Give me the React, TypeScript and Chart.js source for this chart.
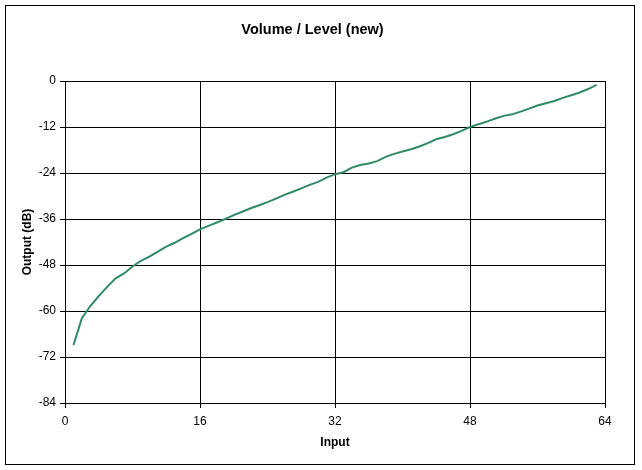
import React, { useEffect, useRef } from "react";
import { Chart, registerables } from "chart.js";

Chart.register(...registerables);

const chartTitle = "Volume / Level (new)";
const xTitle = "Input";
const yTitle = "Output (dB)";

const inputs = [
  1, 2, 3, 4, 5, 6, 7, 8, 9, 10, 11, 12, 13, 14, 15, 16,
  17, 18, 19, 20, 21, 22, 23, 24, 25, 26, 27, 28, 29, 30, 31, 32,
  33, 34, 35, 36, 37, 38, 39, 40, 41, 42, 43, 44, 45, 46, 47, 48,
  49, 50, 51, 52, 53, 54, 55, 56, 57, 58, 59, 60, 61, 62, 63,
];

const outputDb = [
  -68.9, -61.9, -58.7, -56.1, -53.7, -51.5, -50.2, -48.4, -46.9, -45.8, -44.5, -43.2, -42.2, -41.0, -39.9, -38.7,
  -37.8, -36.9, -36.0, -35.0, -34.1, -33.2, -32.4, -31.6, -30.7, -29.7, -28.9, -28.0, -27.1, -26.3, -25.2, -24.3,
  -23.8, -22.6, -21.9, -21.5, -20.9, -19.8, -19.0, -18.4, -17.8, -17.1, -16.2, -15.2, -14.6, -13.9, -13.0, -12.0,
  -11.3, -10.6, -9.8, -9.1, -8.7, -8.0, -7.2, -6.4, -5.8, -5.2, -4.4, -3.7, -3.0, -2.1, -1.0,
];

const xMin = 0;
const xMax = 64;
const xStep = 16;
const yMin = -84;
const yMax = 0;
const yStep = 12;

const FONT = "'Liberation Sans', Arial, sans-serif";

const outerBorder = {
  id: "outerBorder",
  afterDraw(chart: any) {
    const ctx = chart.ctx;
    ctx.save();
    ctx.strokeStyle = "#000";
    ctx.lineWidth = 1;
    ctx.strokeRect(5.5, 5.5, 629, 459);
    ctx.restore();
  },
};

export default function App() {
  const ref = useRef<HTMLCanvasElement | null>(null);

  useEffect(() => {
    if (!ref.current) return;
    const chart = new Chart(ref.current, {
      type: "line",
      data: {
        datasets: [
          {
            data: inputs.map((x, i) => ({ x, y: outputDb[i] })),
            borderColor: "#2E8B63",
            backgroundColor: "#2E8B63",
            borderWidth: 2,
            pointRadius: 0,
            tension: 0,
            fill: false,
          },
        ],
      },
      options: {
        responsive: false,
        animation: false,
        layout: { padding: { top: 0, right: 37, bottom: 20.5, left: 20 } },
        plugins: {
          legend: { display: false },
          tooltip: { enabled: false },
          title: {
            display: true,
            text: chartTitle,
            color: "#000",
            font: { family: FONT, size: 14.5, weight: "bold", lineHeight: 1.2 },
            padding: { top: 20.8, bottom: 42.8 },
          },
        },
        scales: {
          x: {
            type: "linear",
            min: xMin,
            max: xMax,
            ticks: {
              stepSize: xStep,
              color: "#000",
              font: { family: FONT, size: 12 },
              padding: 6,
              maxRotation: 0,
            },
            grid: { color: "#000", lineWidth: 1, tickLength: 5, drawTicks: true },
            border: { color: "#000", width: 1 },
            title: {
              display: true,
              text: xTitle,
              color: "#000",
              font: { family: FONT, size: 12, weight: "bold", lineHeight: 1.2 },
              padding: 0,
            },
            afterFit(scale: any) {
              scale.height = 46.5;
            },
          },
          y: {
            type: "linear",
            min: yMin,
            max: yMax,
            ticks: {
              stepSize: yStep,
              color: "#000",
              font: { family: FONT, size: 12 },
              padding: 4,
            },
            grid: { color: "#000", lineWidth: 1, tickLength: 5, drawTicks: true },
            border: { color: "#000", width: 1 },
            title: {
              display: true,
              text: yTitle,
              color: "#000",
              font: { family: FONT, size: 12, weight: "bold", lineHeight: 1.2 },
              padding: 0,
            },
            afterFit(scale: any) {
              scale.width = 45;
            },
          },
        },
      },
      plugins: [outerBorder],
    });
    return () => chart.destroy();
  }, []);

  return (
    <div style={{ position: "absolute", left: 0, top: 0, width: 642, height: 470, background: "#fff" }}>
      <canvas ref={ref} width={642} height={470} style={{ display: "block" }} />
    </div>
  );
}
